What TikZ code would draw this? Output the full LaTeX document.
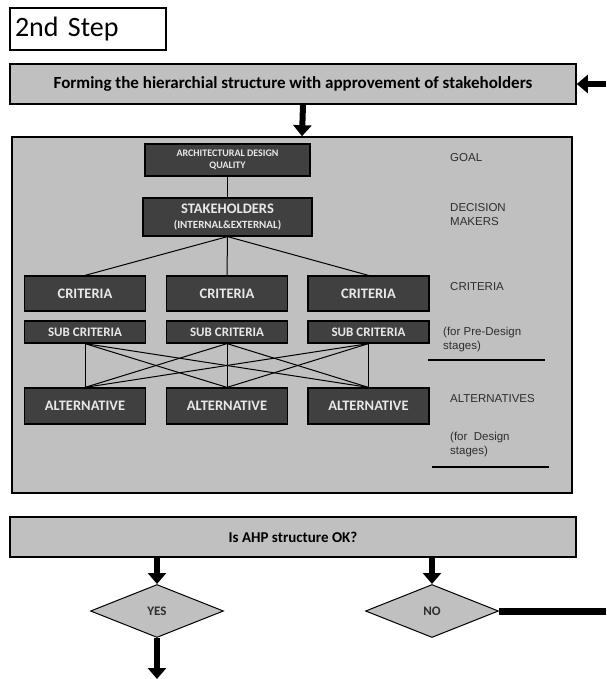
\documentclass[tikz,border=0pt]{standalone}
\usepackage{fontspec}
\setmainfont{Carlito}
\newfontfamily\labelfont{Liberation Sans}
\usetikzlibrary{shapes.geometric,arrows.meta}

\definecolor{boxgray}{HTML}{C0C0C0}
\definecolor{darkbox}{HTML}{404040}
\definecolor{boxtext}{HTML}{E8E8E8}
\definecolor{labelgray}{HTML}{2E2E2E}

\begin{document}
\begin{tikzpicture}[x=1pt, y=-1pt,
		panel/.style={draw=black, line width=1.6pt, fill=boxgray, inner sep=0pt, font=\bfseries\fontsize{15}{17}\selectfont},
		level/.style={draw=black, line width=1.2pt, fill=darkbox, text=boxtext, inner sep=0pt, align=center, font=\bfseries\fontsize{14.5}{16}\selectfont},
		choice/.style={diamond, draw=black, line width=1pt, fill=boxgray, inner sep=0pt, minimum width=133pt, minimum height=53pt, text=labelgray, font=\bfseries\fontsize{13}{14}\selectfont},
		side/.style={anchor=west, inner sep=0pt, align=left, text=labelgray, font=\labelfont\fontsize{11.5}{14}\selectfont},
		link/.style={black, line width=1pt},
		flow/.style={black, line width=6pt, -{Triangle[width=18pt, length=11pt]}},
		rule/.style={black, line width=2.5pt}
		]
		
		% 画布
		\useasboundingbox (0,0) rectangle (606,679);
		
		% 标题与外框
		\node[draw=black, line width=1.2pt, fill=white, minimum width=156pt, minimum height=42pt, text width=146pt, align=left, inner sep=0pt, font=\fontsize{28}{30}\selectfont] (title) at (88,29) {2nd Step};
		\node[panel, minimum width=566pt, minimum height=40pt, font=\bfseries\fontsize{17}{19}\selectfont] (form) at (293,84) {Forming the hierarchial structure with approvement of stakeholders};
		\node[panel, minimum width=560pt, minimum height=356pt] (frame) at (292,315) {};
		\node[panel, minimum width=566pt, minimum height=40pt] (check) at (293,537) {Is AHP structure OK?};
		
		% 层次结构
		\node[level, minimum width=165pt, minimum height=32pt, font=\bfseries\fontsize{10}{12}\selectfont] (goal) at (227.5,160) {ARCHITECTURAL DESIGN\\QUALITY};
		\node[level, minimum width=169pt, minimum height=38pt, font=\bfseries\fontsize{14.5}{15}\selectfont] (stake) at (227.5,217) {STAKEHOLDERS\\{\fontsize{11}{12}\selectfont(INTERNAL\&EXTERNAL)}};
		
		\node[level, minimum width=121pt, minimum height=35pt] (crit1) at (85,293.5) {CRITERIA};
		\node[level, minimum width=121pt, minimum height=35pt] (crit2) at (227,293.5) {CRITERIA};
		\node[level, minimum width=121pt, minimum height=35pt] (crit3) at (368.5,293.5) {CRITERIA};
		
		\node[level, minimum width=121pt, minimum height=22pt, font=\bfseries\fontsize{13}{14}\selectfont] (sub1) at (85,332) {SUB CRITERIA};
		\node[level, minimum width=121pt, minimum height=22pt, font=\bfseries\fontsize{13}{14}\selectfont] (sub2) at (227,332) {SUB CRITERIA};
		\node[level, minimum width=121pt, minimum height=22pt, font=\bfseries\fontsize{13}{14}\selectfont] (sub3) at (368.5,332) {SUB CRITERIA};
		
		\node[level, minimum width=121pt, minimum height=36pt] (alt1) at (85,406) {ALTERNATIVE};
		\node[level, minimum width=121pt, minimum height=36pt] (alt2) at (227,406) {ALTERNATIVE};
		\node[level, minimum width=121pt, minimum height=36pt] (alt3) at (368.5,406) {ALTERNATIVE};
		
		% 右侧说明
		\node[side] (lgoal) at (450,158) {GOAL};
		\node[side] (lmakers) at (450,215) {DECISION\\MAKERS};
		\node[side] (lcrit) at (450,287) {CRITERIA};
		\node[side] (lpre) at (443,340) {(for Pre-Design\\stages)};
		\node[side] (lalt) at (450,399) {ALTERNATIVES};
		\node[side] (ldesign) at (450,445) {(for\ \ Design\\stages)};
		\coordinate (P1) at (428,360);
		\coordinate (P2) at (545,360);
		\coordinate (D1) at (432,467);
		\coordinate (D2) at (549,467);
		\draw[rule] (P1) -- (P2);
		\draw[rule] (D1) -- (D2);
		
		% 连线
		\draw[link] (goal.south) -- (stake.north);
		\draw[link] (stake.south) -- (crit1.north);
		\draw[link] (stake.south) -- (crit2.north);
		\draw[link] (stake.south) -- (crit3.north);
		
		\draw[link] (sub1.south) -- (alt1.north);
		\draw[link] (sub1.south) -- (alt2.north);
		\draw[link] (sub1.south) -- (alt3.north);
		\draw[link] (sub2.south) -- (alt1.north);
		\draw[link] (sub2.south) -- (alt2.north);
		\draw[link] (sub2.south) -- (alt3.north);
		\draw[link] (sub3.south) -- (alt1.north);
		\draw[link] (sub3.south) -- (alt2.north);
		\draw[link] (sub3.south) -- (alt3.north);
		
		% 判断
		\node[choice] (yes) at (157,611) {YES};
		\node[choice] (no) at (432,611) {NO};
		
		% 粗箭头
		\coordinate (back) at (606,84);
		\coordinate (noout) at (606,611);
		\coordinate (yesout) at (157,679);
		\draw[flow] (back) -- (form.east);
		\draw[flow] ([xshift=10pt]form.south) -- ([xshift=10pt]frame.north);
		\draw[flow] (yes.north |- check.south) -- (yes.north);
		\draw[flow] (no.north |- check.south) -- (no.north);
		\draw[black, line width=7pt] (no.east) -- (noout);
		\draw[flow] (yes.south) -- (yesout);
		
	\end{tikzpicture}
\end{document}
